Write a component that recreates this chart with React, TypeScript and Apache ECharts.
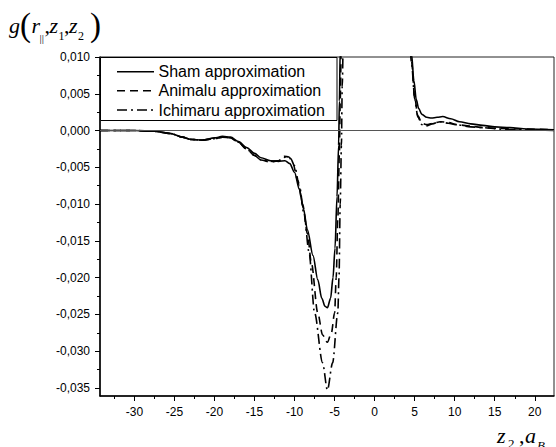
import React, { useEffect, useRef } from "react";
import * as echarts from "echarts";

// ---- data ----
const sham: number[][] = [
  [-34.3, 0], [-30, 0], [-27.5, -0.0001], [-25.5, -0.0004], [-24, -0.0009], [-23, -0.0012],
  [-21.5, -0.0013], [-20, -0.001], [-19, -0.0008], [-18, -0.0009], [-17, -0.0015], [-16, -0.0023],
  [-15, -0.0031], [-14.2, -0.0037], [-13, -0.0041], [-12, -0.0042], [-11.2, -0.0041], [-10.6, -0.0045],
  [-10, -0.0057], [-9.4, -0.008], [-8.9, -0.0106], [-8.4, -0.0135], [-7.7, -0.017], [-7.1, -0.0203],
  [-6.6, -0.0228], [-6.2, -0.0239], [-5.9, -0.0241], [-5.5, -0.0228], [-5.2, -0.02], [-4.95, -0.016],
  [-4.7, -0.009], [-4.5, -0.002], [-4.4, 0.004], [-4.3, 0.011], [-4.0, 0.03],
  [4.0, 0.03], [4.3, 0.014], [4.6, 0.0105], [4.9, 0.0068], [5.2, 0.0042], [5.5, 0.003], [5.9, 0.0022],
  [6.5, 0.0018], [7.1, 0.0017], [7.8, 0.0018], [8.5, 0.0019], [9.5, 0.0016], [10.6, 0.0012],
  [12, 0.0009], [13.5, 0.0007], [15, 0.0005], [16.9, 0.0004], [19, 0.0002], [22.4, 0.0001],
];

const animalu: number[][] = [
  [-34.3, 0], [-30, 0], [-27.5, -0.0001], [-25.5, -0.0004], [-24, -0.0009], [-23, -0.0012],
  [-21.5, -0.0013], [-20, -0.0011], [-19, -0.0009], [-18, -0.001], [-17, -0.0016], [-16, -0.0025],
  [-15, -0.0034], [-14.2, -0.004], [-13, -0.0043], [-12, -0.0041], [-11.3, -0.0035], [-10.7, -0.0036],
  [-10.2, -0.0045], [-9.6, -0.0068], [-9, -0.01], [-8.4, -0.014], [-7.9, -0.018], [-7.1, -0.0248],
  [-6.5, -0.0278], [-5.9, -0.0288], [-5.4, -0.0275], [-5.0, -0.0248], [-4.8, -0.02], [-4.6, -0.012],
  [-4.4, -0.003], [-4.3, 0.004], [-4.15, 0.013], [-3.9, 0.03],
  [3.9, 0.03], [4.3, 0.013], [4.6, 0.0095], [5.0, 0.0045], [5.4, 0.002], [5.9, 0.001], [6.5, 0.0008],
  [7.3, 0.001], [8.2, 0.0012], [9.2, 0.0011], [10.2, 0.0008], [12, 0.0006], [13.5, 0.0004],
  [15.5, 0.0003], [18, 0.0002], [22.4, 0.0001],
];

const ichimaru: number[][] = [
  [-34.3, 0], [-30, 0], [-27.5, -0.0001], [-25.5, -0.0004], [-24, -0.0009], [-23, -0.0012],
  [-21.5, -0.0013], [-20, -0.0011], [-19, -0.0009], [-18, -0.001], [-17, -0.0016], [-16, -0.0025],
  [-15, -0.0034], [-14.2, -0.004], [-13, -0.0042], [-12, -0.0041], [-11.1, -0.0036], [-10.5, -0.0038],
  [-10, -0.0048], [-9.4, -0.0075], [-8.8, -0.0115], [-8.2, -0.0165], [-7.5, -0.0248], [-6.5, -0.0316],
  [-5.9, -0.0353], [-5.25, -0.0316], [-4.6, -0.0248], [-4.45, -0.02], [-4.3, -0.01], [-4.15, -0.002],
  [-4.05, 0.006], [-3.9, 0.013], [-3.6, 0.03],
  [3.9, 0.03], [4.3, 0.013], [4.6, 0.0093], [5.0, 0.0043], [5.4, 0.0018], [5.9, 0.0008], [6.4, 0.0006],
  [7.2, 0.0009], [8.1, 0.0012], [9.2, 0.001], [10.2, 0.0008], [12, 0.0005], [13.5, 0.0004],
  [15.5, 0.0002], [18, 0.0001], [22.4, 0],
];

const seriesNames = ["Sham approximation", "Animalu approximation", "Ichimaru approximation"];

const xMajorTicks = [-30, -25, -20, -15, -10, -5, 0, 5, 10, 15, 20];
const xMinorTicks = [-32.5, -27.5, -22.5, -17.5, -12.5, -7.5, -2.5, 2.5, 7.5, 12.5, 17.5];
const yMajorTicks = [-0.035, -0.03, -0.025, -0.02, -0.015, -0.01, -0.005, 0, 0.005, 0.01];
const yMinorTicks = [-0.0325, -0.0275, -0.0225, -0.0175, -0.0125, -0.0075, -0.0025, 0.0025, 0.0075];

const X_MIN = -34.3;
const X_MAX = 22.4;
const Y_MIN = -0.0361;
const Y_MAX = 0.01;

const SANS = "'Liberation Sans', Arial, sans-serif";
const SERIF = "'Liberation Serif', 'Times New Roman', serif";

const DASH_ANIMALU = [8, 5];
const DASH_ICHIMARU = [10, 4, 2, 4];

function txt(text: string, x: number, y: number, size: number, italic = true) {
  return {
    type: "text",
    x,
    y,
    silent: true,
    style: {
      text,
      fontFamily: SERIF,
      fontSize: size,
      fontStyle: italic ? "italic" : "normal",
      fill: "#000",
      verticalAlign: "middle",
      align: "left",
    },
  };
}

function legendEntry(name: string, y: number, dash: number[] | null) {
  return [
    {
      type: "line",
      silent: true,
      z: 101,
      shape: { x1: 117, y1: y, x2: 154, y2: y },
      style: { stroke: "#000", lineWidth: 1.6, lineDash: dash || undefined },
    },
    {
      type: "text",
      silent: true,
      z: 101,
      x: 158.5,
      y,
      style: {
        text: name,
        fontFamily: SANS,
        fontSize: 16,
        fill: "#000",
        verticalAlign: "middle",
        align: "left",
      },
    },
  ];
}

export default function App() {
  const ref = useRef<HTMLDivElement>(null);

  useEffect(() => {
    document.body.style.margin = "0";
    if (!ref.current) return;
    const chart = echarts.init(ref.current, undefined, { renderer: "svg" });

    const lineBase = {
      type: "line",
      showSymbol: false,
      symbol: "none",
      smooth: 0.3,
      smoothMonotone: "x",
      clip: true,
      xAxisIndex: 0,
      yAxisIndex: 0,
    };

    chart.setOption({
      animation: false,
      backgroundColor: "#fff",
      grid: {
        left: 100,
        right: 2,
        top: 57,
        bottom: 51,
        show: true,
        borderColor: "#222",
        borderWidth: 1,
        backgroundColor: "transparent",
      },
      xAxis: [
        {
          type: "value",
          min: X_MIN,
          max: X_MAX,
          axisLine: { show: true, onZero: false, lineStyle: { color: "#000", width: 1.5 } },
          axisTick: { show: true, customValues: xMajorTicks, length: 5, lineStyle: { color: "#000" } },
          axisLabel: {
            customValues: xMajorTicks,
            fontFamily: SANS,
            fontSize: 12,
            color: "#000",
            margin: 10,
            formatter: (v: number) => String(v),
          },
          splitLine: { show: false },
        },
        {
          type: "value",
          min: X_MIN,
          max: X_MAX,
          position: "bottom",
          axisLine: { show: false, onZero: false },
          axisTick: { show: true, customValues: xMinorTicks, length: 3, lineStyle: { color: "#000" } },
          axisLabel: { show: false },
          splitLine: { show: false },
        },
      ],
      yAxis: [
        {
          type: "value",
          min: Y_MIN,
          max: Y_MAX,
          axisLine: { show: true, onZero: false, lineStyle: { color: "#000", width: 1.5 } },
          axisTick: { show: true, customValues: yMajorTicks, length: 5, lineStyle: { color: "#000" } },
          axisLabel: {
            customValues: yMajorTicks,
            fontFamily: SANS,
            fontSize: 12,
            color: "#000",
            margin: 10,
            formatter: (v: number) => v.toFixed(3).replace(".", ","),
          },
          splitLine: { show: false },
        },
        {
          type: "value",
          min: Y_MIN,
          max: Y_MAX,
          position: "left",
          axisLine: { show: false, onZero: false },
          axisTick: { show: true, customValues: yMinorTicks, length: 3, lineStyle: { color: "#000" } },
          axisLabel: { show: false },
          splitLine: { show: false },
        },
      ],
      series: [
        {
          ...lineBase,
          name: seriesNames[0],
          data: sham,
          lineStyle: { color: "#000", width: 1.6, type: "solid" },
          itemStyle: { color: "#000" },
          markLine: {
            silent: true,
            symbol: "none",
            label: { show: false },
            lineStyle: { color: "#555", width: 1, type: "solid" },
            data: [{ yAxis: 0 }],
          },
        },
        {
          ...lineBase,
          name: seriesNames[1],
          data: animalu,
          lineStyle: { color: "#000", width: 1.6, type: DASH_ANIMALU },
          itemStyle: { color: "#000" },
        },
        {
          ...lineBase,
          name: seriesNames[2],
          data: ichimaru,
          lineStyle: { color: "#000", width: 1.6, type: DASH_ICHIMARU },
          itemStyle: { color: "#000" },
        },
      ],
      graphic: [
        // legend box
        {
          type: "rect",
          silent: true,
          z: 100,
          shape: { x: 100.5, y: 57.5, width: 236.5, height: 63 },
          style: { fill: "#fff", stroke: "#000", lineWidth: 1 },
        },
        ...legendEntry(seriesNames[0], 71.7, null),
        ...legendEntry(seriesNames[1], 90.7, DASH_ANIMALU),
        ...legendEntry(seriesNames[2], 110, DASH_ICHIMARU),
        // y-axis title g(r||, z1, z2)
        txt("g", 9, 25, 22),
        txt("(", 20, 25, 33, false),
        txt("r", 31.5, 25, 22),
        txt("||", 39.5, 38, 11, false),
        txt(",", 44.5, 25, 22, false),
        txt("z", 49.5, 25, 22),
        txt("1", 58.5, 36, 12, false),
        txt(",", 64, 25, 22, false),
        txt("z", 69, 25, 22),
        txt("2", 78, 36, 12, false),
        txt(")", 90, 25, 33, false),
        // x-axis title z2, aB
        txt("z", 497, 435, 22),
        txt("2", 508, 443, 13, false),
        txt(",", 519, 435, 22, false),
        txt("a", 525, 435, 22),
        txt("B", 537, 445, 13),
      ],
    });

    return () => chart.dispose();
  }, []);

  return <div ref={ref} style={{ width: 556, height: 447 }} />;
}
